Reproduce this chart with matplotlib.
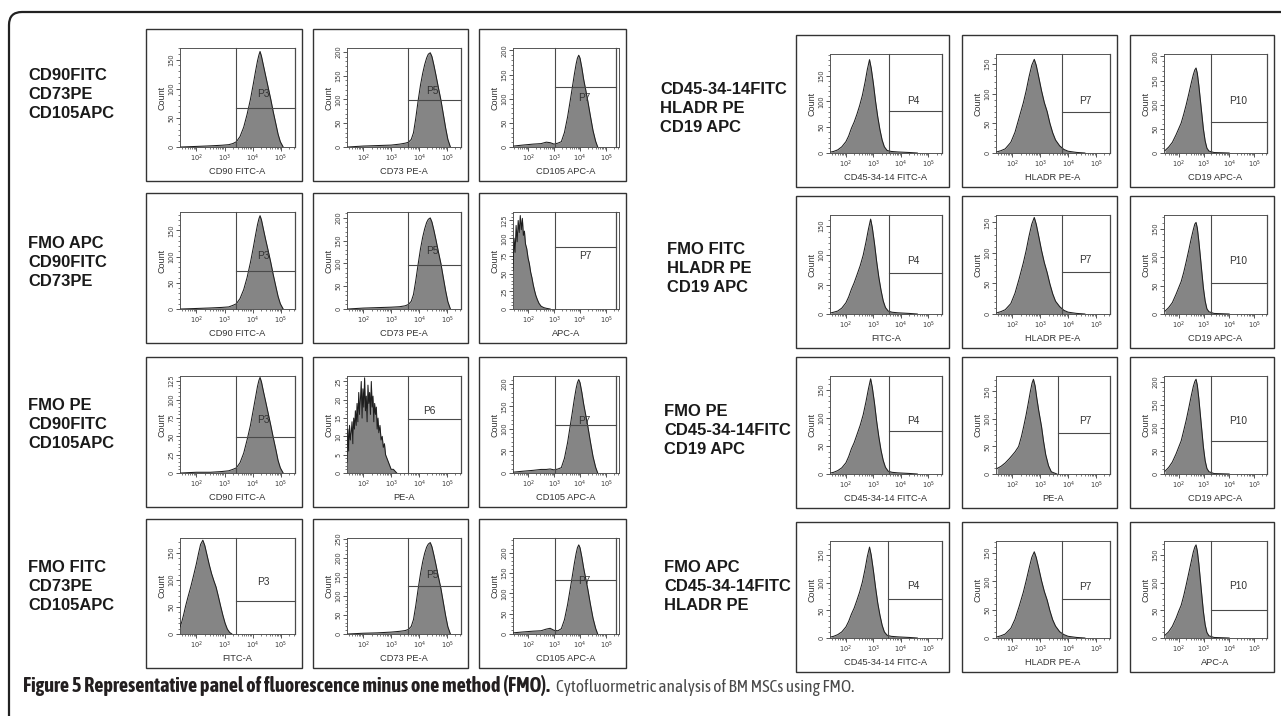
import matplotlib
matplotlib.use("Agg")
import matplotlib.pyplot as plt
import numpy as np
from matplotlib import font_manager as fm
from matplotlib.ticker import FixedLocator, MultipleLocator, LogLocator, NullFormatter, FixedFormatter
from matplotlib.patches import FancyBboxPatch, Rectangle
from matplotlib.transforms import IdentityTransform

# ---------------- data (log10 fluorescence positions, counts) ----------------
cd90_x = [1.45, 2.0, 2.5, 2.9, 3.15, 3.3, 3.42, 3.55, 3.68, 3.8, 3.92, 4.02, 4.1, 4.17, 4.22, 4.26,
          4.31, 4.38, 4.46, 4.55, 4.64, 4.73, 4.82, 4.9, 4.98, 5.08]
L11_y = [0, 1, 2, 3, 4, 6, 9, 18, 34, 56, 82, 108, 130, 148, 158, 164, 156, 140, 122, 102, 82, 60, 40,
         22, 9, 0]
L21_y = [0, 1, 2, 3, 4, 7, 10, 20, 37, 60, 89, 117, 141, 161, 172, 178, 170, 152, 132, 111, 89, 65, 43,
         24, 10, 0]
L31_y = [0, 1, 1, 2, 3, 5, 7, 14, 27, 45, 65, 86, 103, 118, 126, 130, 124, 111, 97, 81, 65, 48, 32, 17,
         7, 0]

cd73_x = [1.45, 2.0, 2.5, 3.0, 3.3, 3.5, 3.62, 3.72, 3.8, 3.88, 3.97, 4.05, 4.13, 4.2, 4.27, 4.33, 4.4,
          4.46, 4.53, 4.6, 4.68, 4.78, 4.87, 4.95, 5.03, 5.12]
L12_y = [0, 2, 3, 4, 6, 8, 10, 16, 30, 60, 99, 130, 155, 173, 187, 195, 198, 190, 172, 152, 128, 99, 68,
         40, 16, 0]
L22_y = [0, 2, 3, 4, 5, 7, 10, 17, 32, 62, 100, 132, 158, 176, 190, 197, 200, 191, 173, 153, 129, 100,
         68, 40, 16, 0]
L42_y = [0, 2, 3, 5, 7, 9, 12, 20, 38, 74, 120, 158, 190, 212, 228, 236, 240, 229, 207, 183, 154, 120,
         82, 48, 19, 0]

cd105_x = [1.45, 1.8, 2.2, 2.5, 2.7, 2.85, 3.0, 3.15, 3.28, 3.4, 3.52, 3.62, 3.7, 3.78, 3.85, 3.9, 3.95,
           4.0, 4.07, 4.14, 4.22, 4.3, 4.4, 4.5, 4.6, 4.68]
L13_y = [2, 4, 6, 7, 10, 9, 6, 8, 11, 30, 62, 95, 122, 150, 172, 184, 190, 184, 164, 140, 118, 95, 64,
         34, 12, 0]
L33_y = [2, 4, 6, 8, 8, 9, 7, 9, 12, 33, 68, 105, 135, 166, 190, 203, 210, 203, 181, 155, 130, 105, 70,
         37, 13, 0]
L43_y = [3, 5, 7, 8, 12, 14, 9, 8, 13, 35, 72, 110, 141, 173, 198, 212, 219, 212, 189, 162, 136, 110, 73,
         39, 14, 0]

apc_fmo_x = [1.42, 1.46, 1.5, 1.54, 1.58, 1.62, 1.66, 1.7, 1.74, 1.78, 1.82, 1.86, 1.9, 1.95, 2.0, 2.05,
             2.1, 2.15, 2.2, 2.25, 2.3, 2.36, 2.42, 2.5, 2.6, 2.7, 2.85]
L23_y = [55, 100, 80, 118, 95, 125, 108, 132, 112, 128, 104, 110, 92, 85, 72, 64, 52, 44, 34, 26, 19, 13,
         8, 4, 2, 1, 0]

pe_fmo_x = [1.42, 1.45, 1.48, 1.51, 1.54, 1.57, 1.6, 1.63, 1.66, 1.69, 1.72, 1.75, 1.78, 1.81, 1.84, 1.87,
            1.9, 1.93, 1.96, 1.99, 2.02, 2.05, 2.08, 2.11, 2.14, 2.17, 2.2, 2.23, 2.26, 2.29, 2.32, 2.35,
            2.38, 2.41, 2.44, 2.47, 2.5, 2.53, 2.56, 2.6, 2.64, 2.68, 2.72, 2.76, 2.8, 2.85, 2.9, 2.95,
            3.0, 3.08, 3.2]
L32_y = [3, 12, 6, 13, 9, 11, 14, 8, 15, 12, 17, 13, 19, 14, 22, 16, 20, 25, 15, 23, 18, 26, 17, 21, 14,
         24, 19, 22, 16, 25, 18, 21, 14, 19, 16, 18, 12, 15, 11, 13, 9, 10, 7, 8, 5, 4, 3, 2, 1, 1, 0]

fitc_fmo_x = [1.42, 1.48, 1.55, 1.62, 1.7, 1.8, 1.9, 2.0, 2.08, 2.15, 2.23, 2.3, 2.38, 2.46, 2.54, 2.62,
              2.7, 2.78, 2.86, 2.94, 3.02, 3.1, 3.18, 3.26]
L41_y = [13, 22, 36, 52, 68, 87, 108, 130, 150, 166, 174, 164, 146, 128, 112, 99, 87, 70, 52, 35, 20, 9,
         3, 0]

cd45a_x = [1.46, 1.55, 1.7, 1.85, 2.0, 2.1, 2.2, 2.3, 2.4, 2.5, 2.6, 2.7, 2.78, 2.86, 2.92, 3.0, 3.08,
           3.16, 3.24, 3.32, 3.4, 3.5, 3.65, 3.9, 4.3, 4.6]
R11_y = [2, 3, 6, 12, 22, 33, 48, 60, 75, 92, 112, 138, 162, 181, 165, 135, 100, 70, 45, 25, 12, 5, 3, 2,
         1, 0]
R41_y = [2, 3, 6, 11, 20, 30, 43, 54, 68, 83, 101, 125, 147, 164, 150, 122, 91, 63, 41, 23, 11, 5, 3, 2,
         1, 0]
cd45b_x = [1.46, 1.55, 1.7, 1.85, 2.0, 2.1, 2.2, 2.3, 2.4, 2.52, 2.63, 2.73, 2.82, 2.9, 2.96, 3.04, 3.12,
           3.2, 3.28, 3.36, 3.44, 3.54, 3.68, 3.9, 4.3, 4.6]
R21_y = [2, 3, 5, 10, 19, 29, 42, 53, 66, 82, 100, 122, 144, 161, 147, 120, 89, 62, 40, 22, 11, 5, 3, 2,
         1, 0]
R31_y = [2, 3, 6, 11, 20, 31, 45, 56, 70, 87, 106, 129, 152, 170, 155, 127, 94, 66, 42, 24, 12, 5, 3, 2,
         1, 0]

hladr_x = [1.46, 1.6, 1.75, 1.95, 2.1, 2.25, 2.4, 2.5, 2.6, 2.7, 2.79, 2.86, 2.95, 3.05, 3.15, 3.25, 3.35,
           3.45, 3.55, 3.7, 3.85, 4.0, 4.3, 4.6]
R12_y = [2, 4, 7, 18, 35, 60, 85, 105, 128, 148, 158, 148, 128, 105, 85, 70, 50, 34, 22, 12, 6, 3, 1, 0]
R22_y = [2, 4, 7, 17, 34, 58, 84, 104, 127, 147, 158, 147, 127, 104, 84, 68, 49, 33, 21, 12, 6, 3, 1, 0]
R42_y = [2, 4, 7, 17, 33, 56, 81, 101, 122, 142, 152, 142, 123, 101, 82, 67, 48, 32, 21, 11, 6, 3, 1, 0]

cd19_x = [1.46, 1.6, 1.75, 1.9, 2.0, 2.1, 2.2, 2.3, 2.4, 2.5, 2.58, 2.64, 2.69, 2.74, 2.8, 2.86, 2.92,
          2.98, 3.05, 3.12, 3.2, 3.4, 4.0]
R13_y = [5, 12, 22, 38, 50, 62, 80, 100, 122, 145, 162, 172, 176, 165, 140, 110, 80, 50, 25, 10, 4, 1, 0]
R23_y = [5, 11, 20, 35, 46, 57, 73, 92, 112, 133, 148, 158, 161, 151, 128, 101, 73, 46, 23, 9, 4, 1, 0]
R33_y = [6, 14, 26, 44, 58, 72, 94, 117, 143, 170, 190, 201, 206, 193, 164, 129, 94, 59, 29, 12, 5, 1, 0]
R43_y = [5, 11, 21, 36, 48, 59, 76, 96, 117, 138, 155, 164, 168, 157, 134, 105, 76, 48, 24, 10, 4, 1, 0]

pe_fmo2_x = [1.46, 1.6, 1.75, 1.9, 2.0, 2.1, 2.23, 2.33, 2.41, 2.5, 2.58, 2.65, 2.71, 2.76, 2.82, 2.88,
             2.95, 3.05, 3.12, 3.2, 3.3, 3.4, 3.6]
R32_y = [10, 14, 20, 28, 34, 40, 50, 68, 86, 108, 130, 150, 165, 172, 160, 138, 115, 86, 60, 35, 15, 4, 0]

# panel order: L11 L12 L13 L21 ... L43, R11 ... R43
hist_x = [cd90_x, cd73_x, cd105_x, cd90_x, cd73_x, apc_fmo_x, cd90_x, pe_fmo_x, cd105_x,
          fitc_fmo_x, cd73_x, cd105_x,
          cd45a_x, hladr_x, cd19_x, cd45b_x, hladr_x, cd19_x, cd45b_x, pe_fmo2_x, cd19_x,
          cd45a_x, hladr_x, cd19_x]
hist_y = [L11_y, L12_y, L13_y, L21_y, L22_y, L23_y, L31_y, L32_y, L33_y, L41_y, L42_y, L43_y,
          R11_y, R12_y, R13_y, R21_y, R22_y, R23_y, R31_y, R32_y, R33_y, R41_y, R42_y, R43_y]
x_labels = ["CD90 FITC-A", "CD73 PE-A", "CD105 APC-A",
            "CD90 FITC-A", "CD73 PE-A", "APC-A",
            "CD90 FITC-A", "PE-A", "CD105 APC-A",
            "FITC-A", "CD73 PE-A", "CD105 APC-A",
            "CD45-34-14 FITC-A", "HLADR PE-A", "CD19 APC-A",
            "FITC-A", "HLADR PE-A", "CD19 APC-A",
            "CD45-34-14 FITC-A", "PE-A", "CD19 APC-A",
            "CD45-34-14 FITC-A", "HLADR PE-A", "APC-A"]
y_max = [170, 208, 205, 185, 213, 137, 132, 26.5, 218, 178, 252, 236,
         192, 167, 205, 168, 162, 174, 175, 178, 213, 175, 171, 175]
y_step = [50, 50, 50, 50, 50, 25, 25, 5, 50, 50, 50, 50,
          50, 50, 50, 50, 50, 50, 50, 50, 50, 50, 50, 50]
gate_x = [3.4, 3.6, 3.05, 3.4, 3.6, 3.05, 3.4, 3.62, 3.05, 3.4, 3.6, 3.05,
          3.56, 3.79, 3.3, 3.56, 3.79, 3.3, 3.57, 3.65, 3.3, 3.55, 3.79, 3.3]
gate_y = [67, 98, 125, 73, 97, 87, 49, 14.7, 109, 61, 126, 133,
          81, 70, 64, 70, 68, 54, 77, 75, 72, 71, 69, 50]
gate_names = ["P3", "P5", "P7", "P3", "P5", "P7", "P3", "P6", "P7", "P3", "P5", "P7",
              "P4", "P7", "P10", "P4", "P7", "P10", "P4", "P7", "P10", "P4", "P7", "P10"]
name_x = [4.38, 4.48, 4.15, 4.38, 4.48, 4.2, 4.38, 4.35, 4.15, 4.38, 4.48, 4.15,
          4.45, 4.6, 4.35, 4.45, 4.6, 4.35, 4.45, 4.6, 4.35, 4.45, 4.6, 4.35]
name_y = [83, 108, 92, 92, 117, 68, 65, 15.5, 105, 87, 142, 119,
          92, 80, 98, 81, 80, 84, 86, 87, 104, 84, 81, 84]
tick_decades = [2, 3, 4, 5]

left_row_labels = [["CD90FITC", "CD73PE", "CD105APC"],
                   ["FMO APC", "CD90FITC", "CD73PE"],
                   ["FMO PE", "CD90FITC", "CD105APC"],
                   ["FMO FITC", "CD73PE", "CD105APC"]]
right_row_labels = [["CD45-34-14FITC", "HLADR PE", "CD19 APC"],
                    ["FMO FITC", "HLADR PE", "CD19 APC"],
                    ["FMO PE", "CD45-34-14FITC", "CD19 APC"],
                    ["FMO APC", "CD45-34-14FITC", "HLADR PE"]]
caption_bold = "Figure 5 Representative panel of fluorescence minus one method (FMO)."
caption_rest = "Cytofluormetric analysis of BM MSCs using FMO."

# ---------------- layout (pixels) ----------------
W, H = 1281, 716
fig = plt.figure(figsize=(W / 100, H / 100), dpi=100)
fig.patch.set_facecolor("white")
PANEL_FONT = ["Liberation Sans", "DejaVu Sans"]

L_cols = [(146, 302), (313, 468), (479, 626)]
L_rows = [(29, 181), (193, 343), (357, 507), (519, 668)]
R_cols = [(796, 949), (962, 1117), (1130, 1274)]
R_rows = [(35, 187), (196, 348), (357, 508), (522, 672)]

boxes = []
for rows, cols in ((L_rows, L_cols), (R_rows, R_cols)):
    for (t, b) in rows:
        for (l, r) in cols:
            boxes.append((l, t, r, b))

XL, XR = 1.42, 5.5

def add_box(l, t, r, b, lw=1.0, color="#333333"):
    rect = Rectangle((l, H - b), r - l, b - t, transform=IdentityTransform(),
                     fill=False, ec=color, lw=lw)
    fig.add_artist(rect)

for i, (l, t, r, b) in enumerate(boxes):
    add_box(l, t, r, b)
    al, at, ar, ab = l + 34, t + 19, r - 7, b - 34
    ax = fig.add_axes([al / W, 1 - ab / H, (ar - al) / W, (ab - at) / H])
    ym = y_max[i]
    xs = 10 ** np.array(hist_x[i], dtype=float)
    ys = np.array(hist_y[i], dtype=float)
    ax.fill_between(xs, ys, 0, color="#858585", lw=0, zorder=2)
    ax.plot(xs, ys, color="#1e1e1e", lw=0.75, zorder=3)
    ax.set_xscale("log")
    ax.set_xlim(10 ** XL, 10 ** XR)
    ax.set_ylim(0, ym)
    # gate
    gx = 10 ** gate_x[i]
    col = i % 3
    gr = 10 ** (XR - 0.1) if (i < 12 and col == 2) else 10 ** XR
    gc = "#4a4a4a"
    ax.plot([gx, gx], [0, ym], color=gc, lw=0.8, zorder=4, clip_on=False)
    ax.plot([gx, gr], [gate_y[i], gate_y[i]], color=gc, lw=0.8, zorder=4, clip_on=False)
    ax.plot([gr, gr], [0, ym], color=gc, lw=0.9, zorder=4, clip_on=False)
    ax.text(10 ** name_x[i], name_y[i], gate_names[i], fontsize=7.3, family=PANEL_FONT,
            color="#333333", ha="center", va="bottom", zorder=5)
    # ticks
    ax.xaxis.set_major_locator(FixedLocator([10.0 ** d for d in tick_decades]))
    ax.xaxis.set_major_formatter(FixedFormatter([r"$10^{%d}$" % d for d in tick_decades]))
    ax.xaxis.set_minor_locator(LogLocator(base=10, subs=np.arange(2, 10)))
    ax.xaxis.set_minor_formatter(NullFormatter())
    st = y_step[i]
    ax.yaxis.set_major_locator(MultipleLocator(st))
    ax.yaxis.set_minor_locator(MultipleLocator(st / 5))
    ax.tick_params(axis="both", which="major", length=2.6, width=0.6, labelsize=4.8,
                   colors="#3a3a3a", pad=1.2)
    ax.tick_params(axis="both", which="minor", length=1.4, width=0.5, colors="#444444")
    ax.tick_params(axis="y", labelrotation=90)
    for lab in ax.get_yticklabels():
        lab.set_va("center")
    for sp in ax.spines.values():
        sp.set_color("#555555")
        sp.set_linewidth(0.7)
    ax.set_xlabel(x_labels[i], fontsize=6.7, family=PANEL_FONT, color="#333333", labelpad=2.5)
    ax.set_ylabel("Count", fontsize=6.5, family=PANEL_FONT, color="#333333", labelpad=1.5)
    ax.set_facecolor("white")

# row labels
def row_text(x, first_center, lines):
    for k, s in enumerate(lines):
        yb = first_center + 19 * k + 6
        fig.text(x / W, 1 - yb / H, s, fontsize=11.9, fontweight="bold", family=PANEL_FONT,
                 color="#1a1a1a", ha="left", va="baseline")

for lines, yc in zip(left_row_labels, [74, 242, 404, 566]):
    row_text(28, yc, lines)
for lines, (xx, yc) in zip(right_row_labels, [(660, 88), (667, 248), (664, 410), (664, 566)]):
    row_text(xx, yc, lines)

# outer frame (top + left with rounded corner)
frame = FancyBboxPatch((9, -60), 1400, H - 12 + 60, boxstyle="round,pad=0,rounding_size=13",
                       transform=IdentityTransform(), fill=False, ec="#222222", lw=1.6)
fig.add_artist(frame)

# caption font: prefer a condensed family that has both bold and regular faces
_WMAP = {"ultralight": 200, "light": 300, "normal": 400, "regular": 400, "book": 400, "medium": 500,
         "semibold": 600, "demibold": 600, "demi": 600, "bold": 700, "heavy": 800,
         "extra bold": 800, "black": 900}

def _weight(f):
    w = f.weight
    if isinstance(w, str):
        return _WMAP.get(w.lower(), 400)
    return int(w)

_cond = [f for f in fm.fontManager.ttflist
         if ("Narrow" in f.name or "Condensed" in f.name) and "Mono" not in f.name
         and f.style == "normal"]
_bold = sorted({f.name for f in _cond if _weight(f) >= 600})
_reg = sorted({f.name for f in _cond if 350 <= _weight(f) <= 450})
_both = [n for n in _bold if n in _reg]
if _both:
    CAP_BOLD = [_both[0], "Roboto", "DejaVu Sans"]
    CAP_REG = [_both[0], "Roboto", "DejaVu Sans"]
else:
    CAP_BOLD = ([_bold[0]] if _bold else []) + ["Roboto", "DejaVu Sans"]
    CAP_REG = ([_reg[0]] if _reg else []) + ["Roboto", "DejaVu Sans"]

t1 = fig.text(23 / W, 1 - 692 / H, caption_bold, fontsize=12, fontweight="bold", family=CAP_BOLD,
              color="#231f20", ha="left", va="baseline")
fig.canvas.draw()
rend = fig.canvas.get_renderer()
w1 = t1.get_window_extent(rend).width
t1.set_fontsize(12 * 525.0 / w1)
t2 = fig.text(556 / W, 1 - 692 / H, caption_rest, fontsize=12, family=CAP_REG,
              color="#4a4a4a", ha="left", va="baseline")
fig.canvas.draw()
w2 = t2.get_window_extent(rend).width
t2.set_fontsize(12 * 299.0 / w2)

fig.savefig("out.png", dpi=100, facecolor="white")
